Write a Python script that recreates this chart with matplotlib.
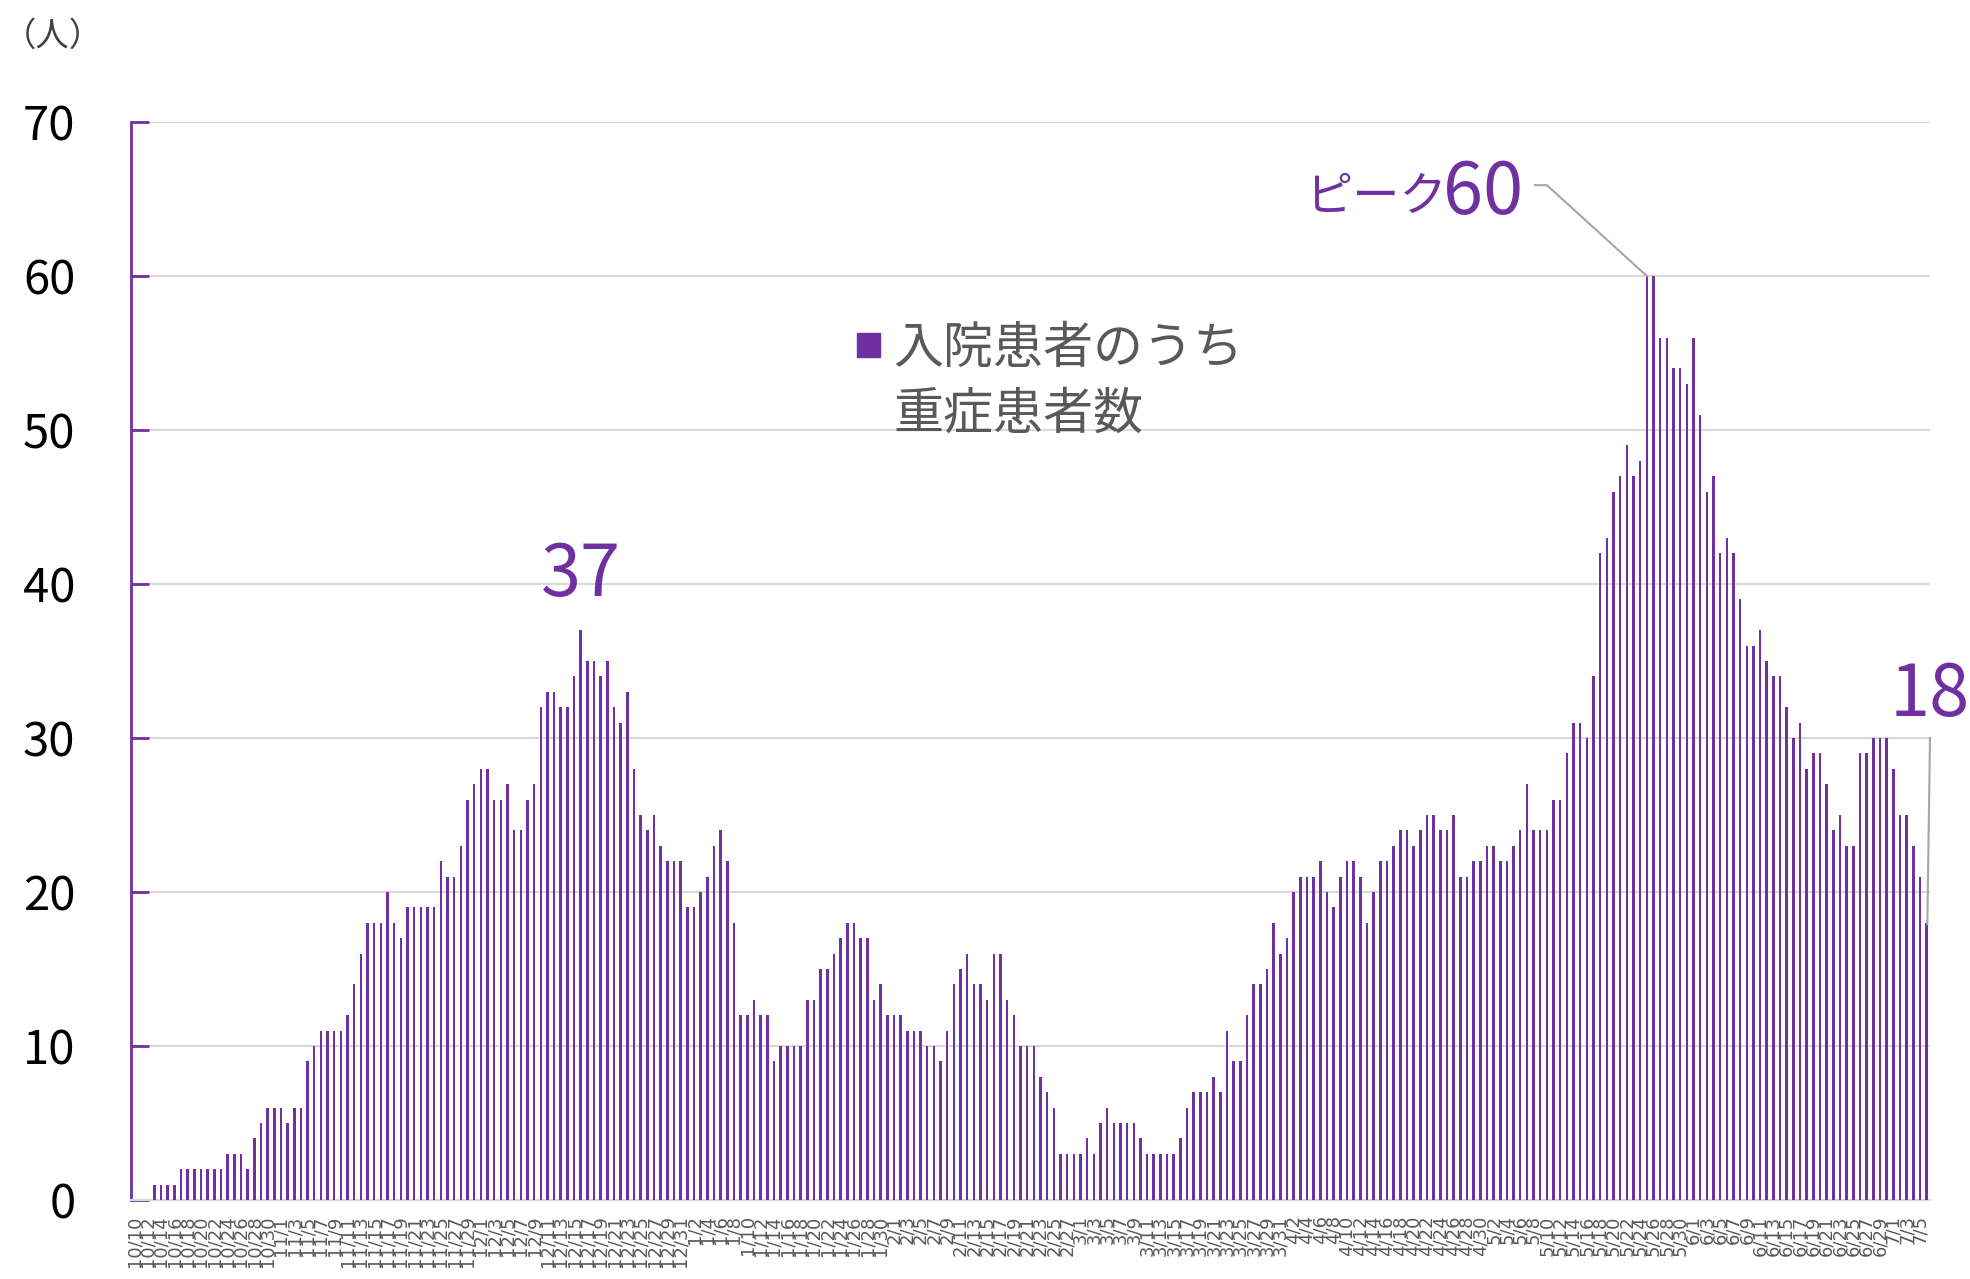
import numpy as np
import pandas as pd
import matplotlib
matplotlib.use("Agg")
import matplotlib.pyplot as plt
from matplotlib.patches import Rectangle

plt.rcParams['font.family'] = ['Noto Sans CJK JP', 'DejaVu Sans']

# 日付 (10/10 - 7/6)
dates = pd.date_range('2020-10-10', '2021-07-06', freq='D')
date_labels = [f"{d.month}/{d.day}" for d in dates]

# 入院患者のうち重症患者数
severe = [
    0, 0, 0, 1, 1, 1, 1, 2, 2, 2,
    2, 2, 2, 2, 3, 3, 3, 2, 4, 5,
    6, 6, 6, 5, 6, 6, 9, 10, 11, 11,
    11, 11, 12, 14, 16, 18, 18, 18, 20, 18,
    17, 19, 19, 19, 19, 19, 22, 21, 21, 23,
    26, 27, 28, 28, 26, 26, 27, 24, 24, 26,
    27, 32, 33, 33, 32, 32, 34, 37, 35, 35,
    34, 35, 32, 31, 33, 28, 25, 24, 25, 23,
    22, 22, 22, 19, 19, 20, 21, 23, 24, 22,
    18, 12, 12, 13, 12, 12, 9, 10, 10, 10,
    10, 13, 13, 15, 15, 16, 17, 18, 18, 17,
    17, 13, 14, 12, 12, 12, 11, 11, 11, 10,
    10, 9, 11, 14, 15, 16, 14, 14, 13, 16,
    16, 13, 12, 10, 10, 10, 8, 7, 6, 3,
    3, 3, 3, 4, 3, 5, 6, 5, 5, 5,
    5, 4, 3, 3, 3, 3, 3, 4, 6, 7,
    7, 7, 8, 7, 11, 9, 9, 12, 14, 14,
    15, 18, 16, 17, 20, 21, 21, 21, 22, 20,
    19, 21, 22, 22, 21, 18, 20, 22, 22, 23,
    24, 24, 23, 24, 25, 25, 24, 24, 25, 21,
    21, 22, 22, 23, 23, 22, 22, 23, 24, 27,
    24, 24, 24, 26, 26, 29, 31, 31, 30, 34,
    42, 43, 46, 47, 49, 47, 48, 60, 60, 56,
    56, 54, 54, 53, 56, 51, 46, 47, 42, 43,
    42, 39, 36, 36, 37, 35, 34, 34, 32, 30,
    31, 28, 29, 29, 27, 24, 25, 23, 23, 29,
    29, 30, 30, 30, 28, 25, 25, 23, 21, 18,
]

y_ticks = [0, 10, 20, 30, 40, 50, 60, 70]
legend_text = ['入院患者のうち', '重症患者数']

purple = '#7030A0'
grey_txt = '#595959'
grid_c = '#D9D9D9'
W, H = 1970, 1279

fig = plt.figure(figsize=(W / 100, H / 100), dpi=100)
ax = fig.add_axes([131 / W, 1 - 1200 / H, (1930 - 131) / W, (1200 - 122) / H])

x = np.arange(len(severe))
ax.bar(x, severe, width=0.38, color=purple, zorder=3)

ax.set_xlim(-0.5, len(severe) - 0.5)
ax.set_ylim(0, 70)
ax.set_yticks(y_ticks)
ax.yaxis.grid(True, color=grid_c, linewidth=1.5)
ax.set_axisbelow(True)

ax.set_xticks(x[::2])
ax.set_xticklabels(date_labels[::2], rotation=90, family='DejaVu Sans',
                   fontsize=13, color=grey_txt)
ax.tick_params(axis='x', length=0, pad=11)
ax.tick_params(axis='y', direction='in', length=13, width=2, color=purple,
               labelsize=34, labelcolor='black', pad=40)

for s in ['top', 'right']:
    ax.spines[s].set_visible(False)
ax.spines['left'].set_color(purple)
ax.spines['left'].set_linewidth(2)
ax.spines['bottom'].set_color(grid_c)
ax.spines['bottom'].set_linewidth(1.5)

# 注記
ax.text(67, 39.2, '37', color=purple, fontsize=52, ha='center', va='baseline')
ax.text(208.4, 64.0, '60', color=purple, fontsize=52, ha='right', va='baseline')
ax.text(197.0, 64.2, 'ピーク', color=purple, fontsize=34, ha='right', va='baseline')
ax.plot([210.2, 212.0, 227.0], [65.9, 65.9, 60.0], color='#A6A6A6', lw=1.5,
        clip_on=False, zorder=4)
ax.text(263.4, 31.4, '18', color=purple, fontsize=52, ha='left', va='baseline')
ax.plot([269.5, 269.1], [30.0, 17.9], color='#A6A6A6', lw=1.5,
        clip_on=False, zorder=4)

# 凡例
fig.add_artist(Rectangle((857 / W, 1 - 357 / H), 23 / W, 24 / H,
                         transform=fig.transFigure, color=purple))
fig.text(893 / W, 1 - 363 / H, legend_text[0], fontsize=36, color=grey_txt,
         va='baseline', ha='left')
fig.text(893 / W, 1 - 429 / H, legend_text[1], fontsize=36, color=grey_txt,
         va='baseline', ha='left')

fig.text(53 / W, 1 - 46 / H, '（人）', fontsize=24, color='#404040',
         ha='center', va='baseline')

fig.savefig('out.png', dpi=100)
